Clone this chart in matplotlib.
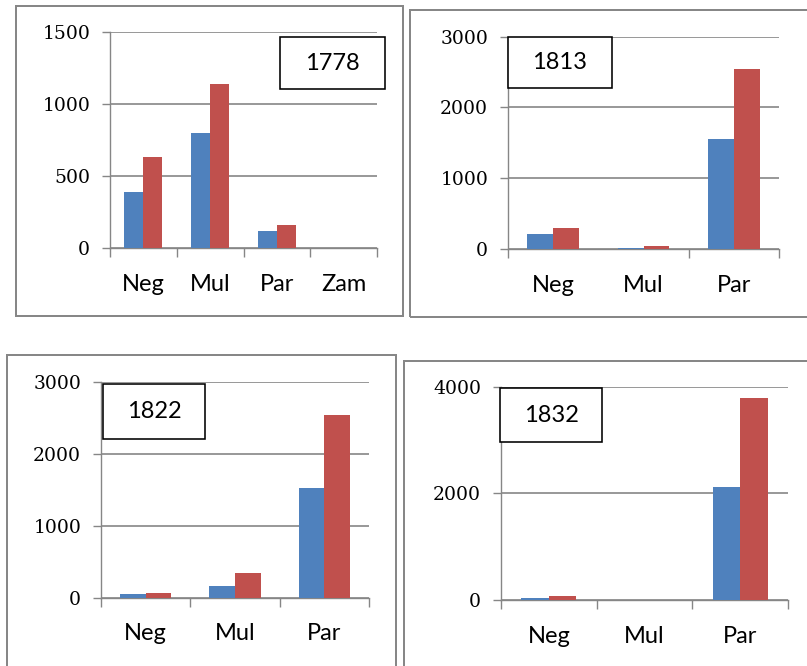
import matplotlib
matplotlib.use("Agg")
import matplotlib.pyplot as plt
from matplotlib.patches import Rectangle
import numpy as np

# ---- data ----
years = ["1778", "1813", "1822", "1832"]
cats_1778 = ["Neg", "Mul", "Par", "Zam"]
blue_1778 = [390, 800, 115, 0]
red_1778 = [632, 1140, 160, 0]

cats_1813 = ["Neg", "Mul", "Par"]
blue_1813 = [215, 18, 1560]
red_1813 = [300, 45, 2550]

cats_1822 = ["Neg", "Mul", "Par"]
blue_1822 = [50, 165, 1530]
red_1822 = [65, 345, 2540]

cats_1832 = ["Neg", "Mul", "Par"]
blue_1832 = [40, 0, 2110]
red_1832 = [80, 0, 3790]

yticks_1778 = [0, 500, 1000, 1500]
yticks_1813 = [0, 1000, 2000, 3000]
yticks_1822 = [0, 1000, 2000, 3000]
yticks_1832 = [0, 2000, 4000]

BLUE = "#4F81BD"
RED = "#C0504D"
GRID = "#868686"
FRAME = "#878787"

W, H = 807, 666
fig = plt.figure(figsize=(W / 100, H / 100), dpi=100)
fig.patch.set_facecolor("white")


def px_rect(x0, y0, x1, y1):
    return [x0 / W, 1 - y1 / H, (x1 - x0) / W, (y1 - y0) / H]


def frame(x0, y0, x1, y1, color=FRAME, lw=2.0):
    fig.add_artist(Rectangle((x0 / W, 1 - y1 / H), (x1 - x0) / W, (y1 - y0) / H,
                             transform=fig.transFigure, fill=False,
                             ec=color, lw=lw * 0.72, zorder=10, clip_on=False))


def panel(rect, cats, blue, red, yticks, xtick_bounds, year, box):
    ax = fig.add_axes(px_rect(*rect))
    n = len(cats)
    x = np.arange(n)
    w = 0.286
    ax.bar(x - w / 2, blue, width=w, color=BLUE, zorder=3)
    ax.bar(x + w / 2, red, width=w, color=RED, zorder=3)
    ax.set_xlim(-0.5, n - 0.5)
    ax.set_ylim(yticks[0], yticks[-1])
    ax.set_yticks(yticks)
    ax.set_yticklabels([str(t) for t in yticks], family="DejaVu Serif",
                       fontsize=13.5)
    ax.tick_params(axis="y", length=5.8, width=1, color=GRID, pad=8.5)
    ax.yaxis.grid(True, color=GRID, lw=1.2, zorder=0)
    ax.set_axisbelow(True)
    ax.set_xticks(xtick_bounds)
    ax.set_xticklabels([])
    ax.tick_params(axis="x", which="major", length=6.5, width=1, color=GRID)
    ax.set_xticks(x, minor=True)
    ax.set_xticklabels(cats, minor=True, family="Lato", fontsize=17)
    ax.tick_params(axis="x", which="minor", length=0, pad=18.5)
    for s in ["top", "right"]:
        ax.spines[s].set_visible(False)
    for s in ["left", "bottom"]:
        ax.spines[s].set_color(GRID)
        ax.spines[s].set_linewidth(1)
    # year label box
    bx0, by0, bx1, by1 = box
    fig.add_artist(Rectangle((bx0 / W, 1 - by1 / H), (bx1 - bx0) / W, (by1 - by0) / H,
                             transform=fig.transFigure, fill=True, fc="white",
                             ec="black", lw=1.6 * 0.72, zorder=11))
    fig.text((bx0 + bx1) / 2 / W, 1 - (by0 + by1) / 2 / H, year,
             family="Lato", fontsize=17, ha="center", va="center", zorder=12)
    return ax


# panel frames
frame(16, 5.7, 403.3, 316)
frame(410.3, 10, 812, 317)
frame(6.8, 355, 395.5, 672)
frame(404, 361, 812, 672)

panel((110, 32, 377, 248), cats_1778, blue_1778, red_1778, yticks_1778,
      [-0.5, 0.5, 1.5, 2.5, 3.5], years[0], (280, 37, 385, 89))
panel((508, 36.7, 779, 249), cats_1813, blue_1813, red_1813, yticks_1813,
      [-0.5, 1.5, 2.5], years[1], (508, 37, 612, 88))
panel((101, 381.7, 369, 597.7), cats_1822, blue_1822, red_1822, yticks_1822,
      [-0.5, 0.5, 1.5, 2.5], years[2], (103, 384, 205, 439))
panel((501, 386.7, 788, 600), cats_1832, blue_1832, red_1832, yticks_1832,
      [-0.5, 0.5, 1.5, 2.5], years[3], (500, 388, 602, 442))

fig.savefig("out.png", dpi=100, facecolor="white")
